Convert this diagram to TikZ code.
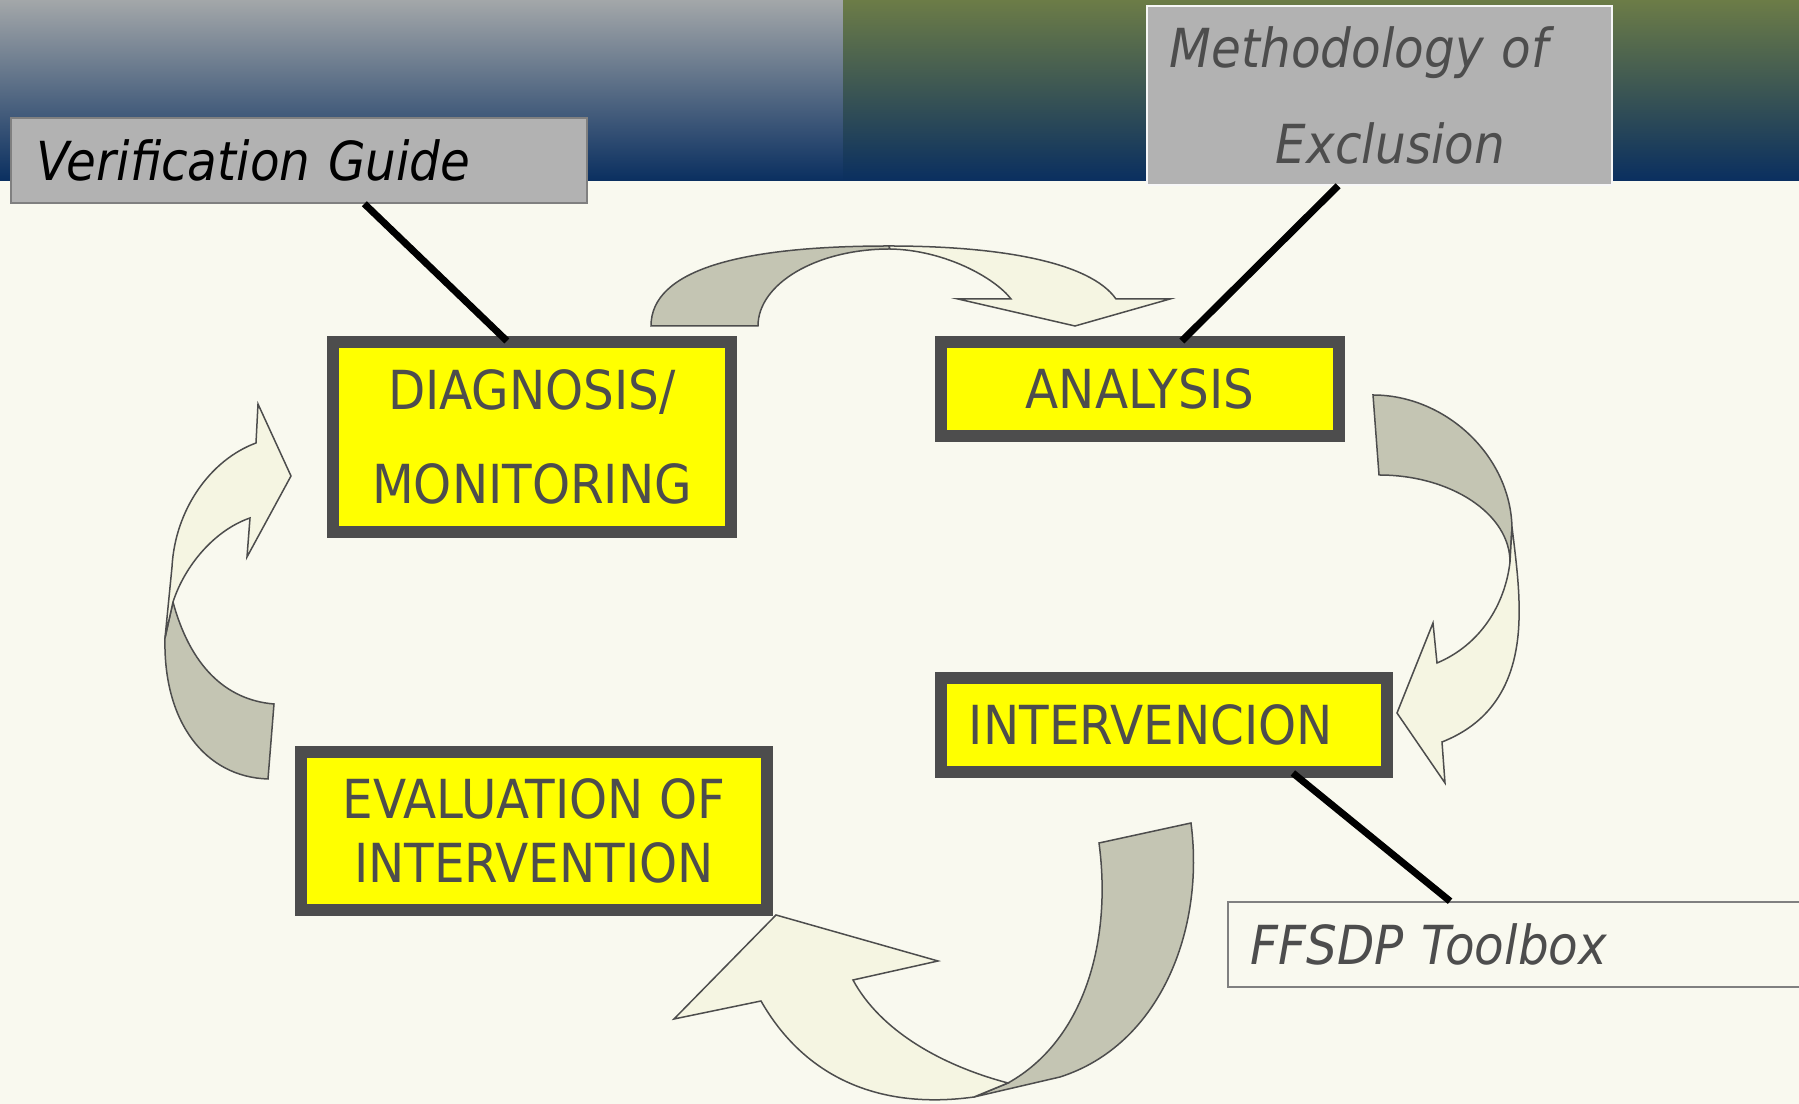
\documentclass[tikz,border=0pt]{standalone}
\usepackage{fontspec}
\setmainfont[FakeStretch=0.9]{DejaVu Sans}
\usepackage{tikz}
\usetikzlibrary{calc}
\definecolor{cream}{HTML}{F9F9EF}
\definecolor{ink}{HTML}{4D4D4D}
\definecolor{stagefill}{RGB}{255,255,0}
\definecolor{notegray}{HTML}{B2B2B2}
\definecolor{notedraw}{HTML}{808080}
\definecolor{arrdark}{HTML}{C4C5B3}
\definecolor{arrlight}{HTML}{F5F5E2}
\definecolor{bannertop}{HTML}{A3A7A9}
\definecolor{bannermid}{HTML}{6E788A}
\definecolor{navy}{HTML}{0A2F60}
\definecolor{olive}{HTML}{6C7C47}
\definecolor{olivemid}{HTML}{405B55}

\begin{document}
\begin{tikzpicture}[x=0.01cm,y=-0.01cm,
  stage/.style={draw=ink,line width=0.12cm,fill=stagefill,text=ink,align=center,inner sep=0pt,
    font=\fontsize{15.3}{18.1}\selectfont},
  note/.style={fill=notegray,draw=notedraw,line width=0.015cm,align=left,inner ysep=0pt,
    font=\fontsize{15.3}{27.2}\selectfont\itshape},
  arrback/.style={fill=arrdark,draw=ink,line width=0.015cm},
  arrfront/.style={fill=arrlight,draw=ink,line width=0.015cm},
  link/.style={line width=0.07cm}]
 	\useasboundingbox (0,0) rectangle (1799,1104);
 	\fill[cream] (0,0) rectangle (1799,1104);
	% banner
 	\shade[top color=bannertop,middle color=bannermid,bottom color=navy] (0,0) rectangle (843,181);
 	\shade[top color=olive,middle color=olivemid,bottom color=navy] (843,0) rectangle (1799,181);

	% labels
 	\node[note,text=black,inner xsep=0.255cm,text width=5.245cm,minimum height=0.85cm] (verif) at (299,160.5) {Verification Guide};
 	\node[note,text=ink,draw=white!90!notegray,inner xsep=0.23cm,text width=4.19cm,minimum height=1.79cm] (meth) at (1379.5,95.5) {Methodology of\\\hspace*{1.06cm}Exclusion};
 	\node[note,text=ink,fill=cream,inner xsep=0.23cm,text width=5.36cm,minimum height=0.85cm] (ffsdp) at (1519,944.5) {FFSDP Toolbox};

	% stages
 	\node[stage,minimum width=3.98cm,minimum height=1.90cm,font=\fontsize{15.3}{26.9}\selectfont] (diag) at (532,437) {DIAGNOSIS/\\MONITORING};
 	\node[stage,minimum width=3.98cm,minimum height=0.94cm] (analysis) at (1140,389) {ANALYSIS};
 	\node[stage,minimum width=4.46cm,minimum height=0.94cm] (interv) at (1164,725) {INTERVENCION\hspace{0.26cm}};
 	\node[stage,minimum width=4.66cm,minimum height=1.58cm] (eval) at (534,831) {EVALUATION OF\\INTERVENTION};

	% links
 	\draw[link] ($(verif.south west)+(354,0)$) -- ($(diag.north west)+(180,5)$);
 	\draw[link] ($(meth.south west)+(192,0)$) -- ($(analysis.north west)+(247,5)$);
 	\draw[link] ($(interv.south west)+(358,-5)$) -- ($(ffsdp.north west)+(223,0)$);

	% curved arrows
 	\draw[arrback] (651,326) .. controls (651,270) and (740,246) .. (889,246) -- (890,249) .. controls (816,249) and (758,284) .. (758,326) -- cycle;
 	\draw[arrfront] (890,249) -- (889,246) .. controls (1000,246) and (1090,262) .. (1116,299) -- (1170,299) -- (1075,326) -- (958,299) -- (1011,299) .. controls (995,278) and (945,250) .. (890,249) -- cycle;

 	\draw[arrback] (1373,395) .. controls (1445,395) and (1510,455) .. (1512,527) -- (1510,562) .. controls (1510,514) and (1451,475) .. (1379,475) -- cycle;
 	\draw[arrfront] (1512,527) .. controls (1516,560) and (1520,590) .. (1519,620) .. controls (1517,690) and (1485,725) .. (1442,742) -- (1445,783) -- (1397,713) -- (1433,623) -- (1437,663) .. controls (1480,645) and (1505,605) .. (1510,562) -- cycle;

 	\draw[arrback] (1099,843) -- (1191,823) .. controls (1205,930) and (1160,1045) .. (1060,1077) -- (974,1097) -- (1008,1083) .. controls (1085,1040) and (1112,940) .. (1099,843) -- cycle;
 	\draw[arrfront] (1008,1083) .. controls (940,1065) and (880,1030) .. (853,980) -- (938,961) -- (776,915) -- (674,1019) -- (761,1001) .. controls (805,1078) and (880,1110) .. (974,1097) -- cycle;

 	\draw[arrback] (173,602) .. controls (190,665) and (225,700) .. (274,704) -- (268,779) .. controls (205,777) and (163,722) .. (165,638) -- cycle;
 	\draw[arrfront] (173,602) .. controls (185,565) and (215,530) .. (250,518) -- (247,557) -- (291,476) -- (258,404) -- (256,443) .. controls (210,460) and (175,510) .. (172,567) -- (165,638) -- cycle;
\end{tikzpicture}
\end{document}
